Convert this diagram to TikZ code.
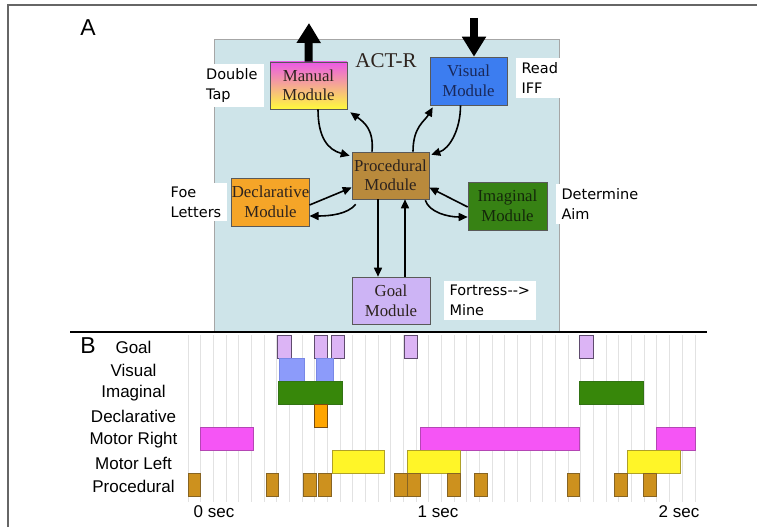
\documentclass[tikz,border=0pt]{standalone}
\usepackage{fontspec}
\setmainfont{Liberation Serif}
\newfontfamily\notefont{DejaVu Sans}
\newfontfamily\chartfont{Liberation Sans}
\usepackage{tikz}
\usetikzlibrary{arrows.meta,positioning}

\definecolor{panelblue}{RGB}{206,228,233}
\definecolor{modtext}{RGB}{45,35,30}
\definecolor{manualtop}{RGB}{235,90,230}
\definecolor{manualbot}{RGB}{255,250,60}
\definecolor{visualblue}{RGB}{60,125,240}
\definecolor{procbrown}{RGB}{185,138,60}
\definecolor{declorange}{RGB}{245,165,40}
\definecolor{imaggreen}{RGB}{55,130,20}
\definecolor{goalviolet}{RGB}{205,180,245}
\definecolor{gridgray}{RGB}{226,226,226}

\begin{document}
\begin{tikzpicture}[x=1pt, y=-1pt,
        module/.style={draw=gray!70!black, line width=0.6pt, minimum width=77pt, minimum height=47pt,
            inner sep=0pt, align=center, text=modtext, font=\fontsize{16.8}{19.5}\selectfont},
        note/.style={fill=white, inner xsep=6pt, inner ysep=4pt, align=left,
            font=\notefont\fontsize{14.5}{20}\selectfont},
        link/.style={line width=1.6pt, -{Triangle[length=9pt,width=8pt]}},
        bigarrow/.style={line width=8pt, -{Triangle[length=20pt,width=23pt]}},
        lane/.style={inner sep=0pt, font=\chartfont\fontsize{17}{17}\selectfont},
        letter/.style={inner sep=0pt, font=\chartfont\fontsize{23}{23}\selectfont},
        goalbar/.style={fill={rgb,255:red,220;green,180;blue,245}, draw={rgb,255:red,95;green,75;blue,110}, line width=0.6pt},
        visbar/.style={fill={rgb,255:red,140;green,155;blue,250}, draw={rgb,255:red,120;green,135;blue,230}, line width=0.4pt},
        imagbar/.style={fill={rgb,255:red,55;green,135;blue,10}, draw={rgb,255:red,50;green,115;blue,20}, line width=0.4pt},
        declbar/.style={fill={rgb,255:red,255;green,165;blue,0}, draw={rgb,255:red,120;green,75;blue,15}, line width=0.6pt},
        rightbar/.style={fill={rgb,255:red,245;green,85;blue,245}, draw={rgb,255:red,180;green,70;blue,180}, line width=0.4pt},
        leftbar/.style={fill={rgb,255:red,255;green,245;blue,40}, draw={rgb,255:red,175;green,160;blue,40}, line width=0.4pt},
        procbar/.style={fill={rgb,255:red,205;green,145;blue,30}, draw={rgb,255:red,135;green,100;blue,35}, line width=0.5pt}]
    \useasboundingbox (0,0) rectangle (757,527);
    \draw[gray!80!black, line width=1.5pt] (8,527) -- (8,5) -- (757,5);

    % A: the modules
    \draw[fill=panelblue, draw=gray!70] (214,39) rectangle (559,332);
    \node[letter] (lettera) at (88,28) {A};
    \node[font=\fontsize{21}{21}\selectfont, text=modtext, inner sep=0pt] (actr) at (386,61) {ACT-R};

    \node[module, top color=manualtop, bottom color=manualbot] (manual) at (308.5,85.5) {Manual\\Module};
    \node[module, fill=visualblue, minimum height=48pt, text={rgb,255:red,25;green,40;blue,90}] (visual) at (468.5,81) {Visual\\Module};
    \node[module, fill=procbrown] (procedural) at (390.5,175.5) {Procedural\\Module};
    \node[module, fill=declorange, minimum height=48pt] (declarative) at (270.5,202) {Declarative\\Module};
    \node[module, fill=imaggreen, minimum width=79pt, minimum height=48pt, text={rgb,255:red,20;green,40;blue,10}] (imaginal) at (507.5,206) {Imaginal\\Module};
    \node[module, fill=goalviolet, minimum width=78pt] (goal) at (391,300.5) {Goal\\Module};

    \node[note, left=6pt of manual] (doubletap) {Double\\Tap};
    \node[note, right=8pt of visual, yshift=3pt] (readiff) {Read\\IFF};
    \node[note, left=4pt of declarative] (foeletters) {Foe\\Letters};
    \node[note, right=8pt of imaginal, yshift=2pt] (determineaim) {Determine\\Aim};
    \node[note, right=13pt of goal] (fortress) {Fortress--{}>\\Mine};

    \coordinate (motorout) at (309,23);
    \coordinate (visualin) at (474,18);
    \draw[bigarrow] (manual.north) -- (motorout);
    \draw[bigarrow] (visualin) -- ([xshift=5.5pt]visual.north);

    \draw[link] ([xshift=9.5pt]manual.south) .. controls +(0,28) and +(-22,-6) .. ([xshift=-2pt,yshift=-4pt]procedural.north west);
    \draw[link] ([xshift=-18.5pt]procedural.north) .. controls +(2,-22) and +(14,10) .. ([xshift=3pt,yshift=-3pt]manual.south east);
    \draw[link] ([xshift=22.5pt]procedural.north) .. controls +(0,-25) and +(-8,14) .. ([xshift=3pt,yshift=-2pt]visual.south west);
    \draw[link] ([xshift=-8pt]visual.south) .. controls +(0,25) and +(18,-6) .. ([xshift=2pt,yshift=-3pt]procedural.north east);
    \draw[link] ([yshift=-3pt]declarative.east) -- ([yshift=-12pt]procedural.west);
    \draw[link] ([xshift=4pt,yshift=-5pt]procedural.south west) .. controls +(-8,10) and +(20,0) .. ([yshift=-14pt]declarative.east);
    \draw[link] ([yshift=-1pt]imaginal.west) -- ([yshift=-12pt]procedural.east);
    \draw[link] ([xshift=-4pt,yshift=-1pt]procedural.south east) .. controls +(4,12) and +(-20,0) .. ([yshift=-11pt]imaginal.west);
    \draw[link] ([xshift=-12.5pt]procedural.south) -- ([xshift=-13pt]goal.north);
    \draw[link] ([xshift=14pt]goal.north) -- ([xshift=14.5pt]procedural.south);

    \draw[line width=2.5pt] (70,332) -- (707,332);

    % B: the trace
    \node[letter] (letterb) at (88,346) {B};
    \foreach \i in {0,...,40}
        \draw[gridgray, line width=1pt] (188+12.675*\i,335) -- (188+12.675*\i,502);
    \foreach \r/\name in {0/Goal,1/Visual,2/Imaginal,3/Declarative,4/Motor Right,5/Motor Left,6/Procedural}
        \node[lane] (lane\r) at (133.5,347+23.3*\r) {\name};

    \foreach \r/\a/\b/\s in {0/277/291/goalbar, 0/314/327/goalbar, 0/331/344/goalbar, 0/404/417/goalbar, 0/579/593/goalbar,
            1/279/304/visbar, 1/316/333/visbar,
            2/278/342/imagbar, 2/579/643/imagbar,
            3/314/327/declbar,
            4/200/253/rightbar, 4/420/579/rightbar, 4/656/695/rightbar,
            5/332/384/leftbar, 5/407/460/leftbar, 5/627/680/leftbar,
            6/188/200/procbar, 6/266/278/procbar, 6/303/316/procbar, 6/318/331/procbar, 6/394/407/procbar, 6/407/420/procbar,
            6/447/460/procbar, 6/474/487/procbar, 6/567/579/procbar, 6/614/627/procbar, 6/643/656/procbar}
        \draw[\s] (\a,335+23*\r) rectangle (\b,358+23*\r);

    \node[font=\chartfont\fontsize{17}{17}\selectfont, inner sep=0pt] (sec0) at (214,512) {0 sec};
    \node[font=\chartfont\fontsize{17}{17}\selectfont, inner sep=0pt] (sec1) at (438,512) {1 sec};
    \node[font=\chartfont\fontsize{17}{17}\selectfont, inner sep=0pt] (sec2) at (679,512) {2 sec};
\end{tikzpicture}
\end{document}
